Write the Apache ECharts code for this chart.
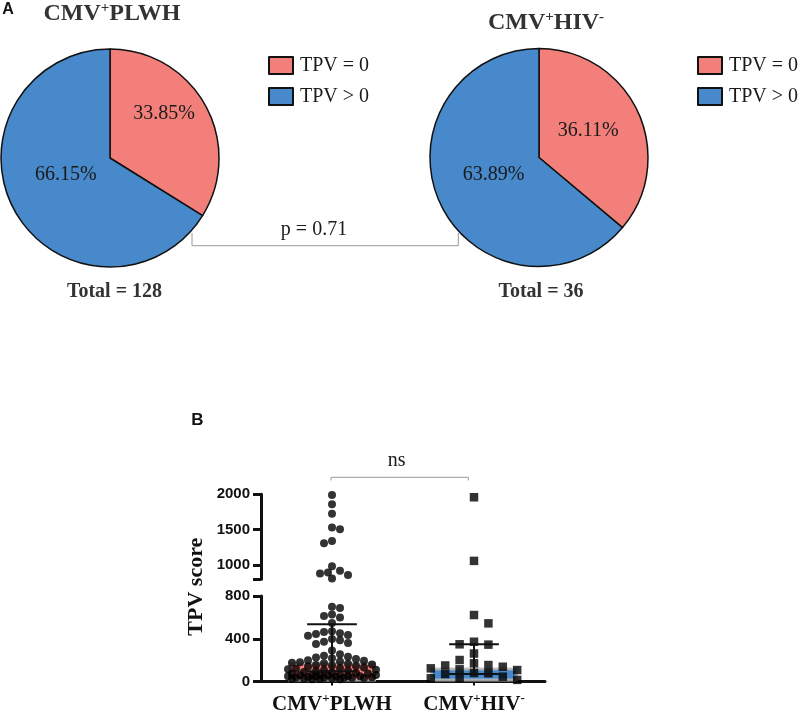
<!DOCTYPE html>
<html><head><meta charset="utf-8">
<script src="https://cdn.jsdelivr.net/npm/echarts@6/dist/echarts.min.js"></script>
<style>html,body{margin:0;padding:0;background:#fff}#c{width:800px;height:714px}</style>
</head><body><div id="c"></div>
<script>
// ---------- data ----------
const pieCategories = ['TPV = 0', 'TPV > 0'];
const pieLeftValues = [33.85, 66.15];
const pieRightValues = [36.11, 63.89];
const pieTitles = ['CMV+PLWH', 'CMV+HIV-'];
const pieTotals = [128, 36];
const pText = 'p = 0.71';

const groupCategories = ['CMV+PLWH', 'CMV+HIV-'];
const plwhScores = [1990, 1860, 1725, 1530, 1505, 1340, 1310, 986, 919, 897, 883, 860, 812,
  700, 688, 628, 612, 600, 548,
  470, 462, 452, 445, 436, 428,
  398, 385, 372, 360, 350,
  290,
  255, 240, 232, 225, 218, 210,
  200, 195, 188, 180, 175, 170, 165, 160, 155, 150, 145, 140,
  130, 125, 120, 115, 110, 105, 100, 95, 90, 85, 80, 76, 72, 68, 65, 62, 60,
  58, 55, 52, 50, 48, 45, 44, 42, 40, 38, 36, 35, 34, 32, 30, 28, 26, 24, 22, 20];
const hivScores = [1958, 1060, 622, 544, 372, 348, 345, 262, 201, 170, 154, 150, 138, 123, 114, 107, 80, 77, 70, 45, 33, 30, 15];
const barValues = [185, 130];
const errLow = [95, 70];
const errHigh = [535, 348];
const lowerTicks = [0, 400, 800];
const upperTicks = [1000, 1500, 2000];
const breakValue = 800;
const upperMax = 2000;
const nsText = 'ns';
const yTitle = 'TPV score';

// ---------- styles ----------
const SERIF = 'Liberation Serif';
const SANS = 'Liberation Sans';
const PINK = '#F37F7B';
const BLUE = '#4789CA';
const colors = [PINK, BLUE];

function supRich(str) {
  const m = str.match(/^CMV\+(\w+)(-?)$/);
  return '{m|CMV}{s|+}{m|' + m[1] + '}' + (m[2] ? '{s|-}' : '');
}

const chart = echarts.init(document.getElementById('c'), null, {renderer: 'canvas'});

// label nudges (applied by the label layout on each of the two option passes)
const pieLabelShift = [[[1.9, -8.2], [3.1, -5.4]], [[-1.4, -1], [3.4, -3.3]]];

function pieSeries(idx, center, values) {
  return {
    type: 'pie', id: 'pie' + idx, center: center, radius: 109,
    startAngle: 90, clockwise: true, silent: true, animation: false,
    itemStyle: {borderColor: '#111', borderWidth: 1.5},
    label: {show: true, position: 'inside', formatter: p => p.value.toFixed(2) + '%',
      fontFamily: SERIF, fontSize: 20, color: '#1a1a1a'},
    labelLine: {show: false},
    labelLayout: p => ({dx: pieLabelShift[idx][p.dataIndex][0], dy: pieLabelShift[idx][p.dataIndex][1]}),
    emphasis: {disabled: true},
    data: pieCategories.map((n, i) => ({name: n, value: values[i], itemStyle: {color: colors[i]}}))
  };
}

function legendAt(left) {
  return {
    left: left, top: 49.5, orient: 'vertical', icon: 'rect', itemWidth: 24, itemHeight: 17, itemGap: 9,
    selectedMode: false, data: pieCategories,
    itemStyle: {borderColor: '#111', borderWidth: 2},
    textStyle: {fontFamily: SERIF, fontSize: 20, color: '#1a1a1a', lineHeight: 22, padding: [0, 0, 0, 2]}
  };
}

const titleRich = {
  m: {fontFamily: SERIF, fontWeight: 'bold', fontSize: 24, fill: '#333', lineHeight: 26},
  s: {fontFamily: SERIF, fontWeight: 'bold', fontSize: 15, fill: '#333', lineHeight: 14, verticalAlign: 'top'}
};

function txt(x, y, text, font, fill, extra) {
  return Object.assign({type: 'text', x: x, y: y, silent: true,
    style: {text: text, font: font, fill: fill, align: 'center', verticalAlign: 'middle'}}, extra || {});
}

const axisLabelRich = {
  m: {fontFamily: SERIF, fontWeight: 'bold', fontSize: 21, color: '#111', lineHeight: 24},
  s: {fontFamily: SERIF, fontWeight: 'bold', fontSize: 13, color: '#111', lineHeight: 13, verticalAlign: 'top'}
};

const yLabelStyle = {fontFamily: SANS, fontWeight: 'bold', fontSize: 15, color: '#111', margin: 11,
  formatter: v => String(v)};

function splitData(vals, upper) {
  return vals.map((v, i) => ({v, i})).filter(o => upper ? o.v > breakValue : o.v <= breakValue);
}

const catIdxL = 0, catIdxR = 1;

const option = {
  animation: false,
  backgroundColor: '#fff',
  legend: [legendAt(263), legendAt(692)],
  grid: [
    {left: 261, top: 596, width: 284, height: 85.5, outerBoundsMode: 'none'},
    {left: 261, top: 494.3, width: 284, height: 85, outerBoundsMode: 'none'}
  ],
  xAxis: [
    {type: 'category', gridIndex: 0, data: groupCategories,
      axisLine: {show: true, lineStyle: {color: '#111', width: 3}},
      axisTick: {show: true, alignWithLabel: true, length: 4, lineStyle: {color: '#111', width: 2}},
      axisLabel: {formatter: supRich, rich: axisLabelRich, margin: 11, interval: 0},
      splitLine: {show: false}},
    {type: 'category', gridIndex: 1, data: groupCategories, show: false}
  ],
  yAxis: [
    {type: 'value', gridIndex: 0, min: 0, max: breakValue,
      axisLine: {show: true, lineStyle: {color: '#111', width: 3}},
      axisTick: {show: true, length: 8, lineStyle: {color: '#111', width: 3}, customValues: lowerTicks},
      axisLabel: Object.assign({customValues: lowerTicks}, yLabelStyle),
      splitLine: {show: false}},
    {type: 'value', gridIndex: 1, min: breakValue, max: upperMax,
      axisLine: {show: true, lineStyle: {color: '#111', width: 3}},
      axisTick: {show: true, length: 8, lineStyle: {color: '#111', width: 3}, customValues: [breakValue].concat(upperTicks)},
      axisLabel: Object.assign({customValues: upperTicks}, yLabelStyle),
      splitLine: {show: false}}
  ],
  series: [
    pieSeries(0, [110, 158], pieLeftValues),
    pieSeries(1, [539, 157.5], pieRightValues),
    {type: 'bar', id: 'bars', xAxisIndex: 0, yAxisIndex: 0, barWidth: 88, z: 1, silent: true,
      data: barValues.map((v, i) => ({value: v, itemStyle: {color: colors[i]}})),
      itemStyle: {borderColor: 'rgba(185,185,185,0.85)', borderWidth: 3}},
    {type: 'scatter', id: 'sLlo', xAxisIndex: 0, yAxisIndex: 0, symbol: 'circle', symbolSize: 8, z: 3, silent: true,
      itemStyle: {color: '#000'}, data: splitData(plwhScores, false).map(o => [catIdxL, o.v])},
    {type: 'scatter', id: 'sLhi', xAxisIndex: 1, yAxisIndex: 1, symbol: 'circle', symbolSize: 8, z: 3, silent: true,
      itemStyle: {color: '#000'}, data: splitData(plwhScores, true).map(o => [catIdxL, o.v])},
    {type: 'scatter', id: 'sRlo', xAxisIndex: 0, yAxisIndex: 0, symbol: 'rect', symbolSize: 8.5, z: 3, silent: true,
      itemStyle: {color: '#000'}, data: splitData(hivScores, false).map(o => [catIdxR, o.v])},
    {type: 'scatter', id: 'sRhi', xAxisIndex: 1, yAxisIndex: 1, symbol: 'rect', symbolSize: 8.5, z: 3, silent: true,
      itemStyle: {color: '#000'}, data: splitData(hivScores, true).map(o => [catIdxR, o.v])},
    {type: 'custom', id: 'err', xAxisIndex: 0, yAxisIndex: 0, z: 4, silent: true,
      data: errLow.map((l, i) => [i, l, errHigh[i]]),
      renderItem: function (params, api) {
        const i = api.value(0);
        const lo = api.coord([i, api.value(1)]);
        const hi = api.coord([i, api.value(2)]);
        const w = api.size([1, 0])[0] * 0.35 / 2;
        const st = {stroke: '#111', lineWidth: 2};
        return {type: 'group', children: [
          {type: 'line', shape: {x1: lo[0], y1: lo[1], x2: hi[0], y2: hi[1]}, style: st},
          {type: 'line', shape: {x1: hi[0] - w, y1: hi[1], x2: hi[0] + w, y2: hi[1]}, style: st},
          {type: 'line', shape: {x1: lo[0] - w, y1: lo[1], x2: lo[0] + w, y2: lo[1]}, style: st}
        ]};
      }}
  ],
  graphic: [
    txt(8, 10, 'A', 'bold 16px "Liberation Sans"', '#111'),
    txt(112, 14, supRich(pieTitles[0]), '', '#333', {style: {text: supRich(pieTitles[0]), rich: titleRich, align: 'center', verticalAlign: 'middle'}}),
    txt(546, 22.5, supRich(pieTitles[1]), '', '#333', {style: {text: supRich(pieTitles[1]), rich: titleRich, align: 'center', verticalAlign: 'middle'}}),
    txt(114.5, 291.7, 'Total = ' + pieTotals[0], 'bold 20px "Liberation Serif"', '#333'),
    txt(541, 291.7, 'Total = ' + pieTotals[1], 'bold 20px "Liberation Serif"', '#333'),
    {type: 'polyline', silent: true, shape: {points: [[192, 233], [192, 245.7], [458.3, 245.7], [458.3, 233]]},
      style: {stroke: '#9a9a9a', lineWidth: 1, fill: null}},
    txt(314, 230, pText, '20px "Liberation Serif"', '#1a1a1a'),
    txt(197.5, 420, 'B', 'bold 17px "Liberation Sans"', '#111'),
    {type: 'polyline', silent: true, shape: {points: [[331, 480.5], [331, 477.3], [468.3, 477.3], [468.3, 480.5]]},
      style: {stroke: '#9a9a9a', lineWidth: 1, fill: null}},
    txt(396.7, 461, nsText, '20px "Liberation Serif"', '#1a1a1a'),
    txt(196.7, 586.7, yTitle, 'bold 22px "Liberation Serif"', '#111', {rotation: Math.PI / 2})
  ]
};

chart.setOption(option);

// ---------- beeswarm offsets computed from pixel positions given by the axes ----------
function swarm(ys, step, minDist, maxOff) {
  const order = ys.map((y, i) => i).sort((a, b) => ys[a] - ys[b]);
  const placed = [];
  const off = new Array(ys.length);
  let flip = 1;
  order.forEach(i => {
    const y = ys[i];
    let best = 0, bestScore = -1, found = false;
    for (let k = 0; k * step <= maxOff + 0.01 && !found; k++) {
      const cands = k === 0 ? [0] : [flip * k * step, -flip * k * step];
      for (const x of cands) {
        let md = Infinity;
        for (const p of placed) {
          const d = Math.hypot(p.x - x, p.y - y);
          if (d < md) md = d;
        }
        if (md >= minDist) { best = x; found = true; break; }
        if (md > bestScore) { bestScore = md; best = x; }
      }
    }
    if (best !== 0) flip = -flip;
    off[i] = best;
    placed.push({x: best, y: y});
  });
  return off;
}

function pixY(v, catIdx) {
  const upper = v > breakValue;
  return chart.convertToPixel({gridIndex: upper ? 1 : 0}, [catIdx, v])[1];
}

function buildOffsets(vals, catIdx, step, minDist, maxOff) {
  const ys = vals.map(v => pixY(v, catIdx));
  return swarm(ys, step, minDist, maxOff);
}

const offL = buildOffsets(plwhScores, catIdxL, 4, 7, 44);
const offR = buildOffsets(hivScores, catIdxR, 14.4, 8.5, 44);

function items(vals, offs, catIdx, upper) {
  return splitData(vals, upper).map(o => ({value: [catIdx, o.v], symbolOffset: [offs[o.i], 0]}));
}

chart.setOption({series: [
  {id: 'sLlo', data: items(plwhScores, offL, catIdxL, false)},
  {id: 'sLhi', data: items(plwhScores, offL, catIdxL, true)},
  {id: 'sRlo', data: items(hivScores, offR, catIdxR, false)},
  {id: 'sRhi', data: items(hivScores, offR, catIdxR, true)}
]});
</script>
</body></html>
